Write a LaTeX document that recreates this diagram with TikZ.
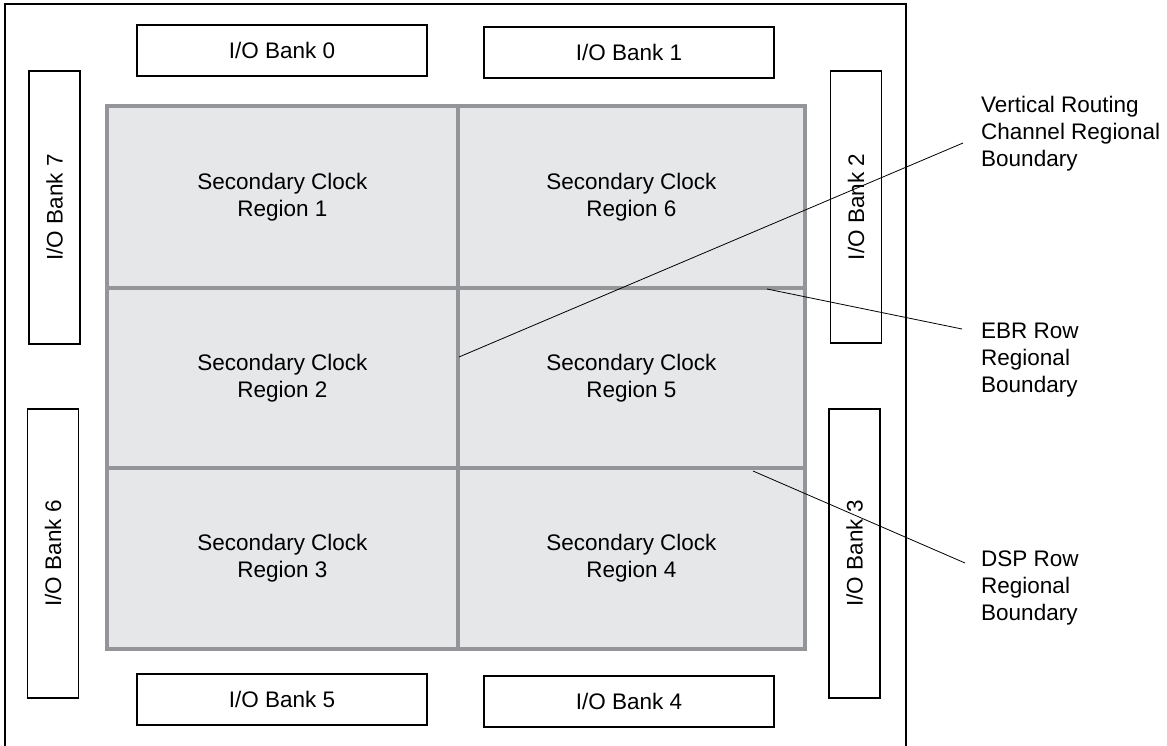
\documentclass[tikz,border=0pt]{standalone}
\usepackage{fontspec}
\setmainfont{Liberation Sans}
\usetikzlibrary{positioning}
\definecolor{regionfill}{HTML}{E6E7E8}
\definecolor{regionline}{HTML}{939598}

\begin{document}
\begin{tikzpicture}[x=1pt, y=-1pt, font=\fontsize{22.5}{27}\selectfont,
    bank/.style={draw, line width=1.2pt, minimum width=290pt, minimum height=51pt, inner sep=0pt},
    vbank/.style={bank, rotate=90},
    region/.style={draw=regionline, fill=regionfill, line width=3.4pt, align=center, inner sep=0pt, outer sep=0pt},
    note/.style={anchor=north west, align=left, inner sep=0pt},
    pointer/.style={line width=0.8pt}]
    \useasboundingbox (0,0) rectangle (1167,746);

    % device outline
    \draw [line width=1.3pt] (5,746) -- (5,4) -- (906,4) -- (906,746);

    % secondary clock regions
    \node [region, minimum width=351pt, minimum height=182pt] (region1) at (282.5,197) {Secondary Clock\\Region 1};
    \node [region, minimum width=347pt, minimum height=182pt, right=0pt of region1] (region6) {Secondary Clock\\Region 6};
    \node [region, minimum width=351pt, minimum height=180pt, below=0pt of region1] (region2) {Secondary Clock\\Region 2};
    \node [region, minimum width=347pt, minimum height=180pt, right=0pt of region2] (region5) {Secondary Clock\\Region 5};
    \node [region, minimum width=351pt, minimum height=181pt, below=0pt of region2] (region3) {Secondary Clock\\Region 3};
    \node [region, minimum width=347pt, minimum height=181pt, right=0pt of region3] (region4) {Secondary Clock\\Region 4};

    % I/O banks
    \node [bank] (bank0) at (282,50.5) {I/O Bank 0};
    \node [bank] (bank1) at (629,52.5) {I/O Bank 1};
    \node [bank] (bank5) at (282,699.5) {I/O Bank 5};
    \node [bank] (bank4) at (629,701.5) {I/O Bank 4};
    \node [vbank, minimum width=273pt] (bank7) at (54.5,207.5) {I/O Bank 7};
    \node [vbank, minimum width=289pt] (bank6) at (53,553.5) {I/O Bank 6};
    \node [vbank, minimum width=272pt] (bank2) at (856,207) {I/O Bank 2};
    \node [vbank, minimum width=289pt] (bank3) at (854.5,553.5) {I/O Bank 3};

    % boundary notes
    \node [note] (vrcnote) at (981,96) {Vertical Routing\\Channel Regional\\Boundary};
    \node [note] (ebrnote) at (981,323) {EBR Row\\Regional\\Boundary};
    \node [note] (dspnote) at (981,551) {DSP Row\\Regional\\Boundary};

    \coordinate (vrc) at (459,357);
    \coordinate (vrcend) at (963,143);
    \coordinate (ebr) at (767,289);
    \coordinate (ebrend) at (962,329);
    \coordinate (dsp) at (753,471);
    \coordinate (dspend) at (965,563);

    \draw [pointer] (vrc) -- (vrcend);
    \draw [pointer] (ebr) -- (ebrend);
    \draw [pointer] (dsp) -- (dspend);
\end{tikzpicture}
\end{document}
